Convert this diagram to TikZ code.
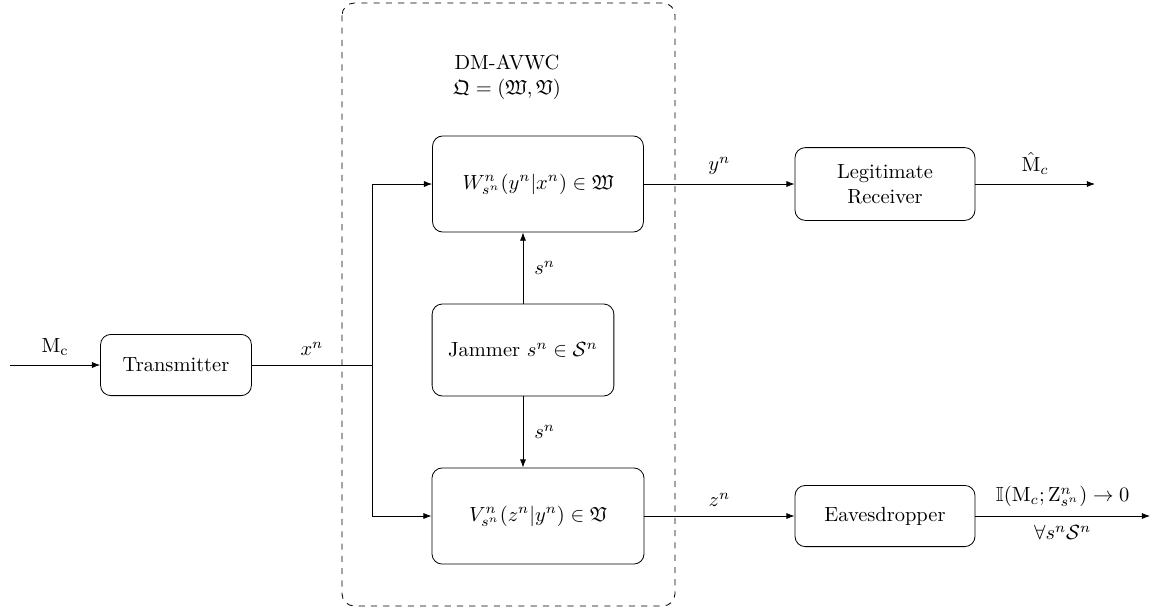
\documentclass[tikz,border=0pt]{standalone}
\usepackage{amssymb}
\usetikzlibrary{arrows.meta}
\begin{document}
\begin{tikzpicture}[x=0.01717cm, y=-0.01717cm,
  block/.style={draw, rounded corners=5pt, align=center, inner sep=0pt},
  link/.style={-{Latex[length=4pt,width=3pt]}},
  lbl/.style={font=\normalsize}]
\useasboundingbox (0,0) rectangle (1165,609);

% channel enclosure
\draw[dashed, rounded corners=6pt] (342,3) rectangle (675,606);
\node[align=center] (title) at (507,77) {DM-AVWC\\ $\mathfrak{Q}=(\mathfrak{W},\mathfrak{V})$};

% blocks
\node[block, minimum width=2.59cm, minimum height=1.05cm] (tx) at (176,365) {Transmitter};
\node[block, minimum width=3.62cm, minimum height=1.65cm] (W) at (538,184) {$W^n_{s^n}(y^n|x^n)\in\mathfrak{W}$};
\node[block, minimum width=3.12cm, minimum height=1.58cm] (jam) at (523,350) {Jammer $s^n\in\mathcal{S}^n$};
\node[block, minimum width=3.64cm, minimum height=1.65cm] (V) at (538,516) {$V^n_{s^n}(z^n|y^n)\in\mathfrak{V}$};
\node[block, minimum width=3.09cm, minimum height=1.25cm] (rx) at (885,184) {Legitimate\\ Receiver};
\node[block, minimum width=3.09cm, minimum height=1.05cm] (eve) at (885,516) {Eavesdropper};

% free ends and junctions
\coordinate (in) at (10,365);
\coordinate (j) at (372,365);
\coordinate (jW) at (372,184);
\coordinate (jV) at (372,516);
\coordinate (outR) at (1095,184);
\coordinate (outE) at (1150,516);

% connectors
\draw[link] (in) -- node[above, yshift=1pt] {$\mathrm{M}_{\mathrm{c}}$} (tx.west);
\draw (tx.east) -- node[above, yshift=1pt] {$x^n$} (j);
\draw (jW) -- (jV);
\draw[link] (jW) -- (W.west);
\draw[link] (jV) -- (V.west);
\draw[link] (jam.north) -- node[right, xshift=2pt] {$s^n$} (jam.north |- W.south);
\draw[link] (jam.south) -- node[right, xshift=2pt] {$s^n$} (jam.south |- V.north);
\draw[link] (W.east) -- node[above, yshift=1pt] {$y^n$} (rx.west);
\draw[link] (V.east) -- node[above, yshift=1pt] {$z^n$} (eve.west);
\draw[link] (rx.east) -- node[above, yshift=1pt] {$\hat{\mathrm{M}}_c$} (outR);
\draw[link] (eve.east) -- node[above, yshift=1pt] {$\mathbb{I}(\mathrm{M}_c;\mathrm{Z}^n_{s^n})\to 0$}
  node[below, yshift=-1pt] {$\forall s^n\mathcal{S}^n$} (outE);
\end{tikzpicture}
\end{document}
